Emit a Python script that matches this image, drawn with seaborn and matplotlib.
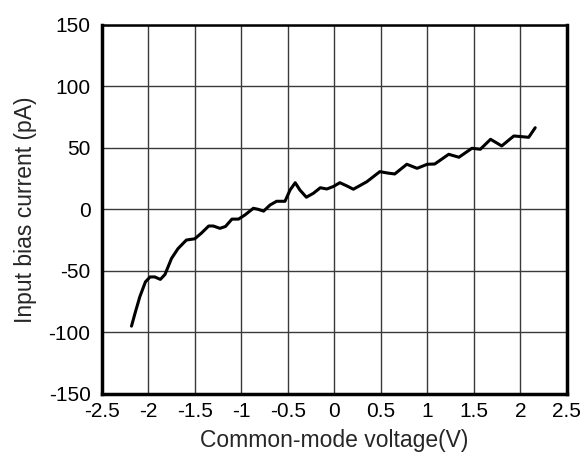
import matplotlib
matplotlib.use("Agg")
import matplotlib.pyplot as plt
import seaborn as sns
import pandas as pd

# Common-mode voltage (V) vs input bias current (pA)
voltage = [-2.18, -2.14, -2.09, -2.03, -1.98, -1.93, -1.87, -1.82, -1.75, -1.68,
           -1.59, -1.50, -1.43, -1.35, -1.30, -1.23, -1.17, -1.10, -1.03, -0.96,
           -0.87, -0.82, -0.76, -0.69, -0.62, -0.53, -0.475, -0.42, -0.37, -0.30,
           -0.225, -0.15, -0.08, -0.01, 0.06, 0.135, 0.205, 0.35, 0.49, 0.57,
           0.65, 0.78, 0.89, 1.00, 1.08, 1.23, 1.34, 1.48, 1.57, 1.68,
           1.80, 1.93, 2.02, 2.09, 2.16]
current = [-95, -84, -71, -59, -55, -55, -57, -53, -40, -32,
           -25, -24, -19.5, -13.6, -13.6, -15.5, -14, -8, -8, -4.6,
           0.8, 0, -1.5, 3.5, 6.5, 6.5, 15.7, 21.6, 15.7, 9.8,
           13, 17.5, 16.5, 18.5, 21.6, 19, 16.3, 22.4, 30.6, 29.5,
           28.7, 36.6, 33.3, 36.6, 36.8, 44.7, 42.3, 49.6, 48.8, 56.9,
           51.5, 59.6, 59.0, 58.5, 66.3]

x_ticks = [-2.5, -2, -1.5, -1, -0.5, 0, 0.5, 1, 1.5, 2, 2.5]
x_labels = ["-2.5", "-2", "-1.5", "-1", "-0.5", "0", "0.5", "1", "1.5", "2", "2.5"]
y_ticks = [-150, -100, -50, 0, 50, 100, 150]

df = pd.DataFrame({"v": voltage, "i": current})

sns.set_style("white")
plt.rcParams["font.family"] = ["Liberation Sans", "DejaVu Sans"]
plt.rcParams["axes.unicode_minus"] = False

fig = plt.figure(figsize=(5.88, 4.63), dpi=100)
ax = fig.add_axes([0.173, 0.1495, 0.791, 0.797])

sns.lineplot(data=df, x="v", y="i", ax=ax, color="black", linewidth=2.2,
             sort=False)

ax.set_xlim(-2.5, 2.5)
ax.set_ylim(-150, 150)
ax.set_xticks(x_ticks)
ax.set_xticklabels(x_labels)
ax.set_yticks(y_ticks)
ax.grid(True, color="#3a3a3a", linewidth=1.0)
ax.set_axisbelow(True)
ax.tick_params(axis="both", length=0, labelsize=15, colors="black")
ax.tick_params(axis="x", pad=6)
ax.tick_params(axis="y", pad=8)

for side in ["left", "bottom", "right"]:
    ax.spines[side].set_linewidth(2.5)
    ax.spines[side].set_color("black")
ax.spines["top"].set_linewidth(1.8)
ax.spines["top"].set_color("black")

ax.set_xlabel("Common-mode voltage(V)", fontsize=16.5)
ax.set_ylabel("Input bias current (pA)", fontsize=16.5)
ax.xaxis.set_label_coords(0.5, -0.095)
ax.yaxis.set_label_coords(-0.14, 0.5)

fig.savefig("out.png", dpi=100)
